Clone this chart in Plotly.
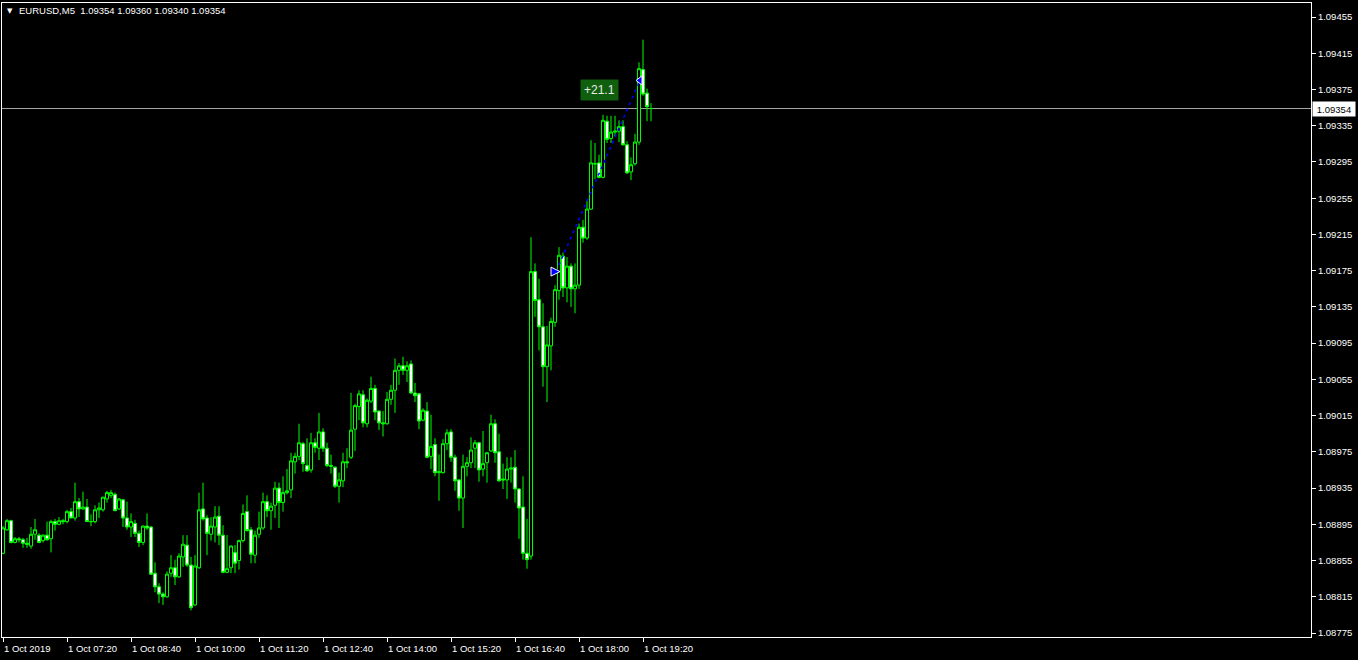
import plotly.graph_objects as go

# ---------------- data (EURUSD M5, 1 Oct 2019) ----------------
opens = [1.08863, 1.08889, 1.08899, 1.08875, 1.08879, 1.08878, 1.08874, 1.08871, 1.08884, 1.08883,
         1.08877, 1.08883, 1.08879, 1.08898, 1.08895, 1.08899, 1.08898, 1.08909, 1.08902, 1.08920,
         1.08912, 1.08914, 1.08898, 1.08898, 1.08911, 1.08911, 1.08923, 1.08927, 1.08928, 1.08912,
         1.08922, 1.08902, 1.08892, 1.08896, 1.08885, 1.08875, 1.08893, 1.08892, 1.08841, 1.08826,
         1.08818, 1.08815, 1.08841, 1.08847, 1.08837, 1.08859, 1.08872, 1.08850, 1.08806, 1.08847,
         1.08912, 1.08902, 1.08884, 1.08892, 1.08904, 1.08883, 1.08842, 1.08847, 1.08864, 1.08855,
         1.08877, 1.08909, 1.08889, 1.08861, 1.08884, 1.08891, 1.08920, 1.08910, 1.08916, 1.08935,
         1.08919, 1.08930, 1.08933, 1.08964, 1.08970, 1.08984, 1.08960, 1.08955, 1.08985, 1.08979,
         1.08997, 1.08979, 1.08960, 1.08958, 1.08937, 1.08943, 1.08964, 1.08969, 1.09000, 1.09025,
         1.09038, 1.09006, 1.09031, 1.09045, 1.09020, 1.09007, 1.09006, 1.09033, 1.09043, 1.09065,
         1.09070, 1.09065, 1.09072, 1.09040, 1.09039, 1.09010, 1.09020, 1.08970, 1.08983, 1.08952,
         1.08952, 1.08984, 1.08997, 1.08969, 1.08944, 1.08924, 1.08959, 1.08963, 1.08979, 1.08985,
         1.08956, 1.08963, 1.08976, 1.09006, 1.08975, 1.08945, 1.08944, 1.08956, 1.08958, 1.08934,
         1.08914, 1.08863, 1.08860, 1.09174, 1.09143, 1.09113, 1.09069, 1.09092, 1.09118, 1.09153,
         1.09191, 1.09156, 1.09180, 1.09155, 1.09159, 1.09223, 1.09211, 1.09243, 1.09293, 1.09294,
         1.09278, 1.09340, 1.09321, 1.09328, 1.09329, 1.09334, 1.09314, 1.09284, 1.09293, 1.09317,
         1.09397, 1.09371, 1.09354]

highs = [1.08893, 1.08901, 1.08900, 1.08881, 1.08881, 1.08880, 1.08880, 1.08892, 1.08901, 1.08885,
         1.08884, 1.08898, 1.08900, 1.08901, 1.08903, 1.08901, 1.08911, 1.08913, 1.08941, 1.08924,
         1.08931, 1.08923, 1.08906, 1.08916, 1.08919, 1.08925, 1.08932, 1.08933, 1.08930, 1.08924,
         1.08923, 1.08920, 1.08907, 1.08900, 1.08888, 1.08894, 1.08907, 1.08893, 1.08853, 1.08830,
         1.08820, 1.08843, 1.08861, 1.08856, 1.08863, 1.08883, 1.08883, 1.08859, 1.08861, 1.08930,
         1.08941, 1.08905, 1.08903, 1.08915, 1.08915, 1.08894, 1.08883, 1.08872, 1.08872, 1.08878,
         1.08917, 1.08927, 1.08892, 1.08888, 1.08909, 1.08930, 1.08927, 1.08919, 1.08942, 1.08941,
         1.08948, 1.08956, 1.08974, 1.08974, 1.09006, 1.08986, 1.08990, 1.08996, 1.08990, 1.09018,
         1.09001, 1.08985, 1.08972, 1.08959, 1.08952, 1.08974, 1.08979, 1.09040, 1.09028, 1.09043,
         1.09043, 1.09034, 1.09058, 1.09049, 1.09021, 1.09020, 1.09041, 1.09049, 1.09078, 1.09073,
         1.09080, 1.09075, 1.09076, 1.09051, 1.09040, 1.09023, 1.09030, 1.09016, 1.08990, 1.08972,
         1.08989, 1.09000, 1.09000, 1.08972, 1.08945, 1.08972, 1.08969, 1.08991, 1.08988, 1.08986,
         1.08998, 1.08975, 1.09016, 1.09011, 1.08995, 1.08962, 1.08969, 1.08969, 1.08977, 1.08935,
         1.08948, 1.08901, 1.09212, 1.09183, 1.09166, 1.09139, 1.09114, 1.09123, 1.09159, 1.09201,
         1.09195, 1.09190, 1.09183, 1.09183, 1.09227, 1.09231, 1.09252, 1.09319, 1.09316, 1.09303,
         1.09347, 1.09346, 1.09346, 1.09346, 1.09341, 1.09341, 1.09318, 1.09300, 1.09326, 1.09405,
         1.09430, 1.09376, 1.09360]

lows = [1.08862, 1.08888, 1.08874, 1.08874, 1.08875, 1.08869, 1.08869, 1.08868, 1.08878, 1.08874,
        1.08875, 1.08877, 1.08864, 1.08888, 1.08894, 1.08895, 1.08896, 1.08902, 1.08899, 1.08903,
        1.08911, 1.08898, 1.08893, 1.08896, 1.08902, 1.08909, 1.08919, 1.08924, 1.08910, 1.08911,
        1.08892, 1.08889, 1.08881, 1.08881, 1.08870, 1.08872, 1.08889, 1.08839, 1.08820, 1.08808,
        1.08806, 1.08814, 1.08837, 1.08828, 1.08836, 1.08848, 1.08848, 1.08800, 1.08805, 1.08846,
        1.08899, 1.08861, 1.08877, 1.08875, 1.08872, 1.08841, 1.08841, 1.08841, 1.08841, 1.08845,
        1.08875, 1.08887, 1.08852, 1.08852, 1.08880, 1.08889, 1.08903, 1.08889, 1.08902, 1.08891,
        1.08909, 1.08928, 1.08924, 1.08951, 1.08966, 1.08953, 1.08953, 1.08952, 1.08974, 1.08966,
        1.08975, 1.08958, 1.08951, 1.08935, 1.08919, 1.08936, 1.08957, 1.08967, 1.08976, 1.09010,
        1.09002, 1.09002, 1.09029, 1.09010, 1.08999, 1.08992, 1.09005, 1.09027, 1.09018, 1.09049,
        1.09060, 1.09052, 1.09039, 1.09030, 1.09000, 1.09009, 1.08968, 1.08956, 1.08948, 1.08921,
        1.08951, 1.08977, 1.08964, 1.08932, 1.08910, 1.08891, 1.08948, 1.08957, 1.08957, 1.08942,
        1.08948, 1.08941, 1.08975, 1.08963, 1.08942, 1.08934, 1.08923, 1.08941, 1.08919, 1.08879,
        1.08856, 1.08846, 1.08856, 1.09124, 1.09087, 1.09047, 1.09030, 1.09065, 1.09113, 1.09143,
        1.09146, 1.09140, 1.09135, 1.09128, 1.09155, 1.09206, 1.09209, 1.09242, 1.09276, 1.09277,
        1.09277, 1.09316, 1.09316, 1.09323, 1.09317, 1.09313, 1.09282, 1.09275, 1.09291, 1.09314,
        1.09368, 1.09340, 1.09340]

closes = [1.08891, 1.08899, 1.08875, 1.08879, 1.08878, 1.08874, 1.08873, 1.08884, 1.08889, 1.08875,
          1.08883, 1.08878, 1.08898, 1.08895, 1.08899, 1.08898, 1.08909, 1.08902, 1.08920, 1.08912,
          1.08914, 1.08898, 1.08898, 1.08911, 1.08913, 1.08925, 1.08930, 1.08930, 1.08910, 1.08923,
          1.08902, 1.08892, 1.08898, 1.08885, 1.08875, 1.08893, 1.08891, 1.08840, 1.08826, 1.08818,
          1.08815, 1.08840, 1.08847, 1.08837, 1.08860, 1.08873, 1.08850, 1.08803, 1.08849, 1.08911,
          1.08901, 1.08885, 1.08893, 1.08903, 1.08883, 1.08842, 1.08846, 1.08871, 1.08852, 1.08877,
          1.08907, 1.08888, 1.08862, 1.08883, 1.08891, 1.08920, 1.08910, 1.08915, 1.08935, 1.08919,
          1.08930, 1.08932, 1.08965, 1.08970, 1.08985, 1.08962, 1.08954, 1.08985, 1.08980, 1.08997,
          1.08979, 1.08960, 1.08959, 1.08937, 1.08944, 1.08964, 1.08963, 1.08999, 1.09026, 1.09039,
          1.09007, 1.09032, 1.09045, 1.09019, 1.09007, 1.09006, 1.09033, 1.09043, 1.09065, 1.09070,
          1.09065, 1.09070, 1.09040, 1.09037, 1.09009, 1.09021, 1.08969, 1.08981, 1.08952, 1.08953,
          1.08984, 1.08996, 1.08969, 1.08943, 1.08924, 1.08959, 1.08963, 1.08977, 1.08985, 1.08955,
          1.08962, 1.08974, 1.09006, 1.08974, 1.08943, 1.08944, 1.08956, 1.08957, 1.08934, 1.08913,
          1.08863, 1.08856, 1.09174, 1.09142, 1.09113, 1.09069, 1.09093, 1.09119, 1.09154, 1.09192,
          1.09156, 1.09180, 1.09155, 1.09159, 1.09223, 1.09211, 1.09243, 1.09294, 1.09293, 1.09278,
          1.09341, 1.09320, 1.09328, 1.09329, 1.09334, 1.09314, 1.09283, 1.09292, 1.09317, 1.09398,
          1.09370, 1.09356, 1.09354]

bar_index = list(range(len(closes)))

x_tick_bars = [0, 16, 32, 48, 64, 80, 96, 112, 128, 144, 160]
x_tick_labels = ["1 Oct 2019", "1 Oct 07:20", "1 Oct 08:40", "1 Oct 10:00", "1 Oct 11:20",
                 "1 Oct 12:40", "1 Oct 14:00", "1 Oct 15:20", "1 Oct 16:40", "1 Oct 18:00",
                 "1 Oct 19:20"]

y_tick_values = [1.08775, 1.08815, 1.08855, 1.08895, 1.08935, 1.08975, 1.09015, 1.09055, 1.09095,
                 1.09135, 1.09175, 1.09215, 1.09255, 1.09295, 1.09335, 1.09375, 1.09415, 1.09455]
y_tick_labels = ["1.08775", "1.08815", "1.08855", "1.08895", "1.08935", "1.08975", "1.09015",
                 "1.09055", "1.09095", "1.09135", "1.09175", "1.09215", "1.09255", "1.09295",
                 "1.09335", "1.09375", "1.09415", "1.09455"]

last_price = 1.09354
header_text = "EURUSD,M5  1.09354 1.09360 1.09340 1.09354"

trade_bars = [138.25, 159.25]
trade_prices = [1.09174, 1.09385]
trade_profit_label = "+21.1"

# ---------------- figure ----------------
FONT = "Liberation Sans"
LIME = "#00FF00"

fig = go.Figure()

fig.add_trace(go.Candlestick(
    x=bar_index, open=opens, high=highs, low=lows, close=closes,
    increasing=dict(line=dict(color=LIME, width=1), fillcolor="#000000"),
    decreasing=dict(line=dict(color=LIME, width=1), fillcolor="#FFFFFF"),
    whiskerwidth=0, showlegend=False, hoverinfo="skip",
))

# trade line (dotted blue)
fig.add_trace(go.Scatter(
    x=trade_bars, y=trade_prices, mode="lines",
    line=dict(color="#0000FF", width=1.6, dash="3px,4px"),
    showlegend=False, hoverinfo="skip",
))
# entry arrow (symbol tip sits on the point, so nudge it one bar to the right)
fig.add_trace(go.Scatter(
    x=[trade_bars[0] + 1.0], y=[trade_prices[0]], mode="markers",
    marker=dict(symbol="arrow-right", size=9, color="#0000FF",
                line=dict(color="#FFFFFF", width=1)),
    showlegend=False, hoverinfo="skip",
))
# exit arrow
fig.add_trace(go.Scatter(
    x=[trade_bars[1]], y=[trade_prices[1]], mode="markers",
    marker=dict(symbol="triangle-left", size=8, color="#0000FF",
                line=dict(color="#FFFFFF", width=1)),
    showlegend=False, hoverinfo="skip",
))

annotations = []
for b, lab in zip(x_tick_bars, x_tick_labels):
    annotations.append(dict(
        x=b, xref="x", y=0, yref="paper", text=lab, showarrow=False,
        xanchor="left", yanchor="top", xshift=-1, yshift=-4,
        font=dict(family=FONT, size=9.5, color="#FFFFFF"),
    ))

# header
annotations.append(dict(
    x=0, xref="paper", y=1, yref="paper", text="▼", showarrow=False,
    xanchor="left", yanchor="top", xshift=3, yshift=-2,
    font=dict(family="DejaVu Sans", size=7, color="#FFFFFF"),
))
annotations.append(dict(
    x=0, xref="paper", y=1, yref="paper", text=header_text, showarrow=False,
    xanchor="left", yanchor="top", xshift=15, yshift=0,
    font=dict(family=FONT, size=9.5, color="#FFFFFF"),
))

# last price label on the axis
annotations.append(dict(
    x=1, xref="paper", y=last_price, yref="y", text=f"{last_price:.5f}", showarrow=False,
    xanchor="left", yanchor="middle", xshift=1, width=40, height=12, borderpad=1,
    bgcolor="#FFFFFF", font=dict(family=FONT, size=9.5, color="#000000"),
))

# trade profit label
annotations.append(dict(
    x=149, xref="x", y=1.09374, yref="y", text=trade_profit_label, showarrow=False,
    xanchor="center", yanchor="middle", borderpad=3, bgcolor="#0F5F0F",
    font=dict(family=FONT, size=12, color="#E8E8E8"),
))

fig.update_layout(
    width=1358, height=660,
    margin=dict(l=2, r=47, t=3, b=23),
    paper_bgcolor="#000000", plot_bgcolor="#000000",
    annotations=annotations,
    shapes=[dict(type="line", xref="paper", x0=0, x1=1, yref="y", y0=last_price, y1=last_price,
                 line=dict(color="#A8A8A8", width=1), layer="below")],
    showlegend=False,
    boxgap=0.05, boxgroupgap=0.2,
)

fig.update_xaxes(
    range=[-0.25, 327], rangeslider=dict(visible=False),
    showgrid=False, zeroline=False,
    showline=True, linecolor="#FFFFFF", linewidth=1, mirror=True,
    tickmode="array", tickvals=x_tick_bars, ticks="outside", ticklen=4,
    tickcolor="#FFFFFF", showticklabels=False,
)
fig.update_yaxes(
    range=[1.087706, 1.094705], side="right",
    showgrid=False, zeroline=False,
    showline=True, linecolor="#FFFFFF", linewidth=1, mirror=True,
    tickmode="array", tickvals=y_tick_values, ticktext=y_tick_labels,
    ticks="outside", ticklen=4, tickcolor="#FFFFFF",
    tickfont=dict(family=FONT, size=9.5, color="#FFFFFF"),
)

fig.write_html("out.html", config={"displayModeBar": False})

# remove the default page margin so the chart sits at the window origin
with open("out.html", "r", encoding="utf-8") as fh:
    html = fh.read()
html = html.replace("<head>", "<head><style>html,body{margin:0;padding:0;background:#000;overflow:hidden;}</style>", 1)
with open("out.html", "w", encoding="utf-8") as fh:
    fh.write(html)
